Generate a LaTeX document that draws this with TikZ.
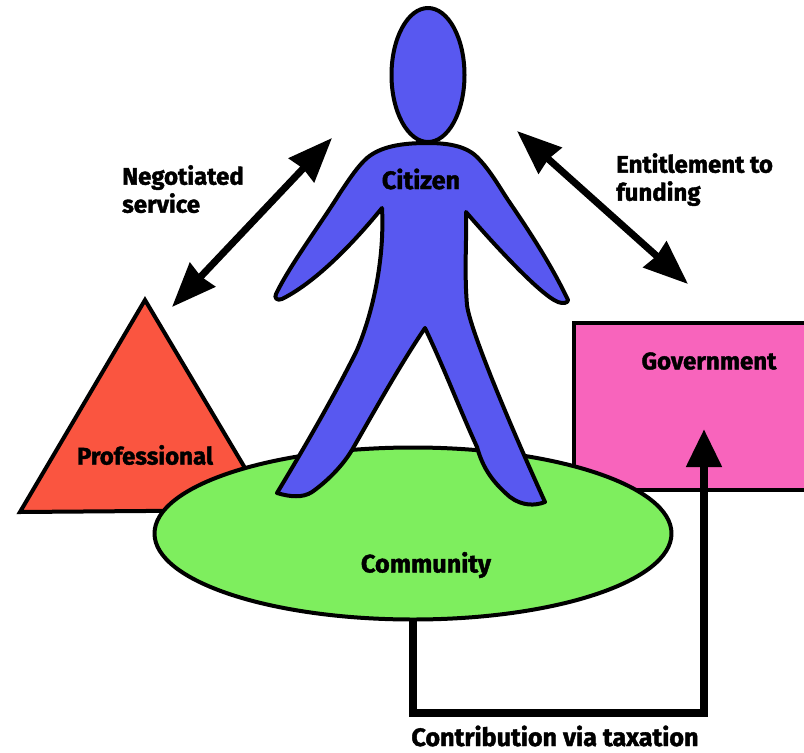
\documentclass[tikz,border=0pt]{standalone}
\usepackage{fontspec}
\setmainfont{Fira Sans}[BoldFeatures={FakeBold=1.6}]
\usetikzlibrary{arrows.meta,shapes.geometric}
\definecolor{cit}{HTML}{5858F0}
\definecolor{prof}{HTML}{FA5540}
\definecolor{gov}{HTML}{F864BC}
\definecolor{com}{HTML}{7EEE5E}
\tikzset{
 shape line/.style={draw=black,line width=4pt,line join=round},
 lab/.style={font=\fontsize{24}{28}\selectfont\bfseries,text=black,inner sep=0pt,align=left},
 labwide/.style={lab,font=\fontsize{25.2}{28}\selectfont\bfseries},
 dbl/.style={line width=7pt,{Stealth[length=44pt,width=34pt,inset=2pt]}-{Stealth[length=44pt,width=34pt,inset=2pt]}},
 tax/.style={line width=8pt,line join=miter,-{Triangle[length=38pt,width=34pt]}}
}
\begin{document}
\begin{tikzpicture}[x=1pt,y=-1pt]
\useasboundingbox (0,0) rectangle (804,753);
% triangle
\draw[shape line,fill=prof,line join=miter] (145,300) -- (20,512) -- (270,510) -- cycle;
% government
\draw[shape line,fill=gov,line join=miter] (812,323) -- (574,323) -- (574,490) -- (812,490);
% community
\node[shape line,fill=com,ellipse,minimum width=517pt,minimum height=172pt,inner sep=0pt] (community) at (413,533.5) {};
% citizen
\draw[shape line,fill=cit] (427,143)
 .. controls (445,143) and (465,145) .. (477,157)
 .. controls (490,170) and (500,188) .. (508,200)
 .. controls (525,225) and (550,262) .. (568,300)
 .. controls (568,303) and (563,304) .. (558,302)
 .. controls (540,295) and (490,240) .. (466,212)
 .. controls (467,235) and (464,270) .. (467,305)
 .. controls (470,330) and (510,425) .. (545,502)
 .. controls (535,506) and (522,506) .. (510,497)
 .. controls (490,480) and (482,465) .. (477,447)
 .. controls (460,410) and (445,370) .. (425,328)
 .. controls (400,365) and (375,410) .. (352,450)
 .. controls (340,470) and (322,485) .. (312,492)
 .. controls (303,498) and (290,497) .. (277,493)
 .. controls (300,455) and (335,395) .. (357,350)
 .. controls (370,320) and (385,265) .. (382,208)
 .. controls (360,235) and (320,280) .. (282,299)
 .. controls (277,301) and (274,298) .. (276,294)
 .. controls (290,265) and (320,225) .. (340,193)
 .. controls (350,178) and (358,166) .. (367,158)
 .. controls (380,147) and (400,143) .. (427,143) -- cycle;
\node[ellipse,shape line,fill=cit,minimum width=73pt,minimum height=134pt,inner sep=0pt] (head) at (428,75) {};
% nodes
\node[labwide] (tcit) at (421,179) {Citizen};
\node[lab] (tprof) at (145,455) {Professional};
\node[lab] (tgov) at (709,361) {Government};
\node[labwide] (tcom) at (426,565) {Community};
\node[lab,anchor=north west] (tneg) at (122,165) {Negotiated\\service};
\node[lab,anchor=north west] (tent) at (616,153) {Entitlement to\\funding};
\node[labwide] (ttax) at (555,736) {Contribution via taxation};
% arrows
\coordinate (a1) at (172,307); \coordinate (a2) at (332,138);
\coordinate (b1) at (517,131); \coordinate (b2) at (688,284);
\draw[dbl] (a1) -- (a2);
\draw[dbl] (b1) -- (b2);
\coordinate (c0) at (413,621); \coordinate (c1) at (413,713); \coordinate (c2) at (704,713); \coordinate (c3) at (704,429);
\draw[tax] (c0) -- (c1) -- (c2) -- (c3);
\end{tikzpicture}
\end{document}
